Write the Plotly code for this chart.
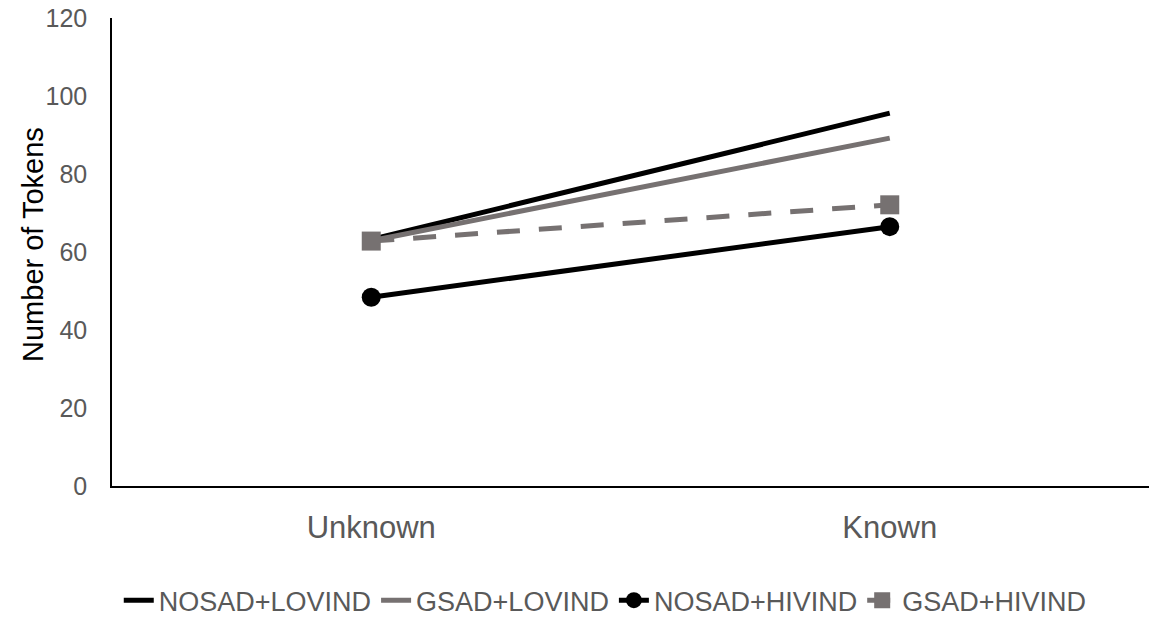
import plotly.graph_objects as go

categories = ["Unknown", "Known"]
nosad_lovind = [63.2, 95.6]
gsad_lovind = [62.9, 89.2]
nosad_hivind = [48.4, 66.5]
gsad_hivind = [62.8, 72.1]
y_ticks = [0, 20, 40, 60, 80, 100, 120]

BLACK = "#000000"
GRAY = "#767171"
TXT = "#595959"

fig = go.Figure()
fig.add_trace(go.Scatter(x=categories, y=nosad_lovind, name="NOSAD+LOVIND", mode="lines",
                         line=dict(color=BLACK, width=5)))
fig.add_trace(go.Scatter(x=categories, y=gsad_lovind, name="GSAD+LOVIND", mode="lines",
                         line=dict(color=GRAY, width=5)))
fig.add_trace(go.Scatter(x=categories, y=nosad_hivind, name="NOSAD+HIVIND", mode="lines+markers",
                         line=dict(color=BLACK, width=5),
                         marker=dict(symbol="circle", size=19, color=BLACK)))
fig.add_trace(go.Scatter(x=categories, y=gsad_hivind, name="GSAD+HIVIND", mode="lines+markers",
                         line=dict(color=GRAY, width=5, dash="23px,19px"),
                         marker=dict(symbol="square", size=19, color=GRAY)))

fig.update_layout(
    width=1162, height=609,
    margin=dict(l=104, r=21, t=10, b=131, autoexpand=False),
    paper_bgcolor="white", plot_bgcolor="white",
    font=dict(family="Liberation Sans, Arial, sans-serif", size=26, color=TXT),
    showlegend=True,
    legend=dict(orientation="h", xref="container", x=0.514, xanchor="center",
                y=-0.245, yanchor="middle",
                font=dict(size=27, color=TXT), traceorder="normal"),
    annotations=[dict(text="Number of Tokens", textangle=-90, showarrow=False,
                      xref="paper", yref="paper", x=0, y=0.515, xanchor="center", yanchor="middle",
                      xshift=-79, font=dict(size=29, color="#000000"))],
)
fig.update_xaxes(range=[-0.5, 1.5], showline=True, linecolor="#000000", linewidth=1.5,
                 showgrid=False, zeroline=False, ticks="", ticklabelstandoff=13,
                 automargin=False, tickfont=dict(size=31, color=TXT))
fig.update_yaxes(range=[0, 120], tickvals=y_ticks, showline=True, linecolor="#000000", linewidth=1.5,
                 showgrid=False, zeroline=False, ticks="", ticklabelstandoff=18,
                 automargin=False, ticklabeloverflow="allow", tickfont=dict(size=25, color=TXT))

fig.write_html("out.html")
